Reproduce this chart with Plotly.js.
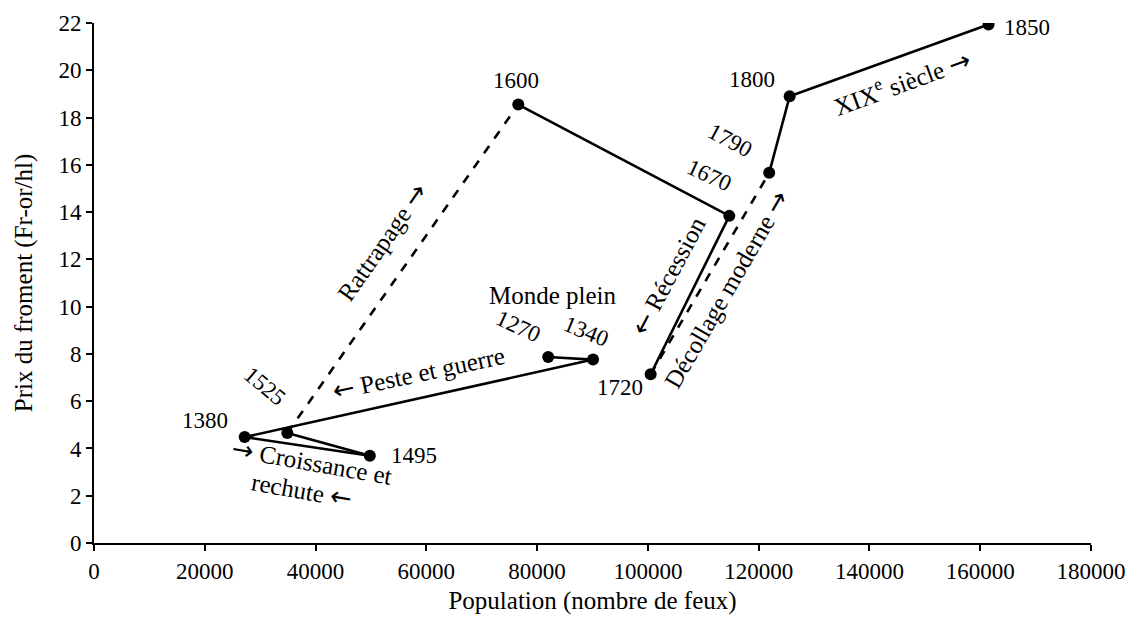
<!DOCTYPE html>
<html>
<head>
<meta charset="utf-8">
<script src="https://cdn.plot.ly/plotly-3.0.1.min.js"></script>
<style>html,body{margin:0;padding:0;background:#fff;}#chart{width:1130px;height:623px;}</style>
</head>
<body>
<div id="chart"></div>
<script>
// ---- data ----
const years = [1270, 1340, 1380, 1495, 1525, 1600, 1670, 1720, 1790, 1800, 1850];
const population = [82000, 90100, 27200, 49800, 34900, 76600, 114700, 100500, 121900, 125600, 161500];
const price = [7.87, 7.76, 4.48, 3.69, 4.65, 18.55, 13.84, 7.14, 15.66, 18.90, 21.94];
// segments (index of start point) drawn dashed
const dashedSegments = [4, 7];
const xTicks = [0, 20000, 40000, 60000, 80000, 100000, 120000, 140000, 160000, 180000];
const yTicks = [0, 2, 4, 6, 8, 10, 12, 14, 16, 18, 20, 22];

const FONT = "Liberation Serif, Times New Roman, serif";
const RA = '<span style="font-family:\'DejaVu Sans\';font-size:26px;">→</span>';
const LA = '<span style="font-family:\'DejaVu Sans\';font-size:26px;">←</span>';

// label offsets for years (pixels) and angle
const yearLabelStyle = {
  1270: {dx: -30, dy: -30, a: 25},
  1340: {dx: -7, dy: -28, a: 22},
  1380: {dx: -40, dy: -17, a: 0},
  1495: {dx: 44, dy: 0, a: 0},
  1525: {dx: -22, dy: -47, a: 40},
  1600: {dx: -2, dy: -24, a: 0},
  1670: {dx: -20, dy: -40, a: 25},
  1720: {dx: -31, dy: 13, a: 0},
  1790: {dx: -39, dy: -32, a: 28},
  1800: {dx: -38, dy: -17, a: 0},
  1850: {dx: 38, dy: 3, a: 0}
};

const traces = [];
for (let i = 0; i < years.length - 1; i++) {
  traces.push({
    type: 'scatter', mode: 'lines',
    x: [population[i], population[i + 1]],
    y: [price[i], price[i + 1]],
    line: {color: '#000', width: 2.6, dash: dashedSegments.includes(i) ? 'dash' : 'solid'},
    hoverinfo: 'skip', showlegend: false
  });
}
traces.push({
  type: 'scatter', mode: 'markers',
  x: population, y: price, text: years.map(String),
  marker: {color: '#000', size: 12},
  showlegend: false
});

const annotations = years.map((yr, i) => {
  const s = yearLabelStyle[yr];
  return {
    x: population[i], y: price[i], xref: 'x', yref: 'y',
    text: String(yr), showarrow: false,
    xshift: s.dx, yshift: -s.dy, textangle: s.a,
    font: {family: FONT, size: 23, color: '#000'}
  };
});

const phaseLabels = [
  {text: 'Monde plein', x: 82900, y: 10.46, a: 0},
  {text: LA + ' Peste et guerre', x: 58500, y: 7.2, a: -12},
  {text: RA + ' Croissance et', x: 39300, y: 3.44, a: 10},
  {text: 'rechute ' + LA, x: 37500, y: 2.25, a: 10},
  {text: 'Rattrapage ' + RA, x: 52000, y: 12.73, a: -55},
  {text: LA + ' Récession', x: 103600, y: 11.31, a: -62},
  {text: 'Décollage moderne ' + RA, x: 114100, y: 10.76, a: -60},
  {text: 'XIX<sup>e</sup> siècle ' + RA, x: 145700, y: 19.5, a: -20}
];
phaseLabels.forEach(p => annotations.push({
  x: p.x, y: p.y, xref: 'x', yref: 'y', text: p.text, showarrow: false,
  textangle: p.a, font: {family: FONT, size: 25, color: '#000'}
}));

const layout = {
  width: 1130, height: 623,
  margin: {l: 94, r: 39, t: 23, b: 80},
  paper_bgcolor: '#fff', plot_bgcolor: '#fff',
  font: {family: FONT, size: 23, color: '#000'},
  showlegend: false,
  xaxis: {
    range: [0, 180000], tickvals: xTicks, ticktext: xTicks.map(String),
    showline: true, linecolor: '#000', linewidth: 2,
    ticks: 'outside', ticklen: 6, tickwidth: 2, tickcolor: '#000',
    showgrid: false, zeroline: false,
    tickfont: {family: FONT, size: 23, color: '#000'},
    title: {text: 'Population (nombre de feux)', font: {family: FONT, size: 25, color: '#000'}, standoff: 9}
  },
  yaxis: {
    range: [0, 22], tickvals: yTicks, ticktext: yTicks.map(String),
    showline: true, linecolor: '#000', linewidth: 2,
    ticks: 'outside', ticklen: 6, tickwidth: 2, tickcolor: '#000',
    showgrid: false, zeroline: false,
    tickfont: {family: FONT, size: 23, color: '#000'},
    title: {text: 'Prix du froment (Fr-or/hl)', font: {family: FONT, size: 25, color: '#000'}, standoff: 19}
  },
  annotations: annotations
};

Plotly.newPlot('chart', traces, layout, {displayModeBar: false, staticPlot: true});
</script>
</body>
</html>
